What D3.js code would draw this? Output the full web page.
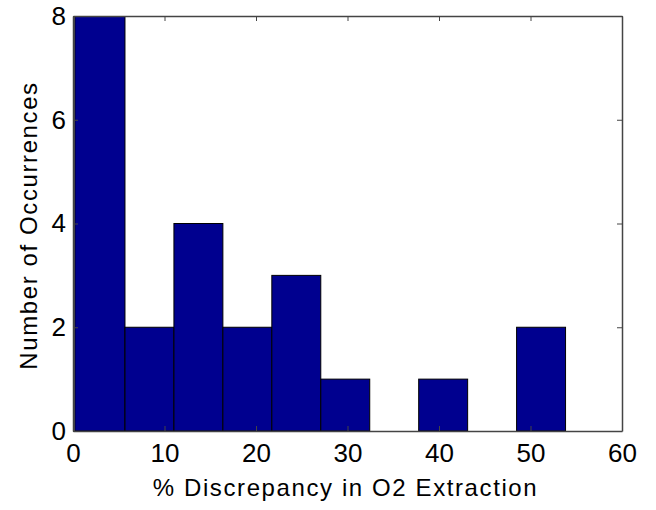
<!DOCTYPE html>
<html>
<head>
<meta charset="utf-8">
<script src="https://cdn.jsdelivr.net/npm/d3@7"></script>
<style>
  body { margin: 0; background: #fff; }
  svg { display: block; }
  text { font-family: "Liberation Sans", Arial, Helvetica, sans-serif; fill: #000; }
</style>
</head>
<body>
<svg id="chart" width="656" height="510"></svg>
<script>
// histogram bin edges (% discrepancy) and counts per bin
var binEdges = [0.2, 5.68, 11.03, 16.38, 21.73, 27.08, 32.43, 37.78, 43.13, 48.48, 53.83];
var counts = [8, 2, 4, 2, 3, 1, 0, 1, 0, 2];
var xTicks = [0, 10, 20, 30, 40, 50, 60];
var yTicks = [0, 2, 4, 6, 8];

var margin = {top: 16, right: 34, bottom: 79, left: 73};
var width = 656, height = 510;

var svg = d3.select('#chart');

var x = d3.scaleLinear().domain([0, 60]).range([margin.left, width - margin.right]);
var y = d3.scaleLinear().domain([0, 8]).range([height - margin.bottom, margin.top]);

var bins = counts.map(function(c, i) {
	return {x0: binEdges[i], x1: binEdges[i + 1], n: c};
});

svg.append('clipPath').attr('id', 'plotClip')
	.append('rect')
	.attr('x', x(0)).attr('y', y(8))
	.attr('width', x(60) - x(0)).attr('height', y(0) - y(8));

// bars (empty bins are left out, as MATLAB draws them flat)
svg.append('g')
	.attr('clip-path', 'url(#plotClip)')
	.selectAll('rect')
	.data(bins.filter(function(d) { return d.n > 0; }))
	.enter().append('rect')
	.attr('x', function(d) { return x(d.x0); })
	.attr('y', function(d) { return y(d.n); })
	.attr('width', function(d) { return x(d.x1) - x(d.x0); })
	.attr('height', function(d) { return y(0) - y(d.n); })
	.attr('fill', '#00008f')
	.attr('stroke', '#000')
	.attr('stroke-width', 1);

// box with inward ticks on all sides
var fmt = d3.format('d');
var tickFont = function(g) {
	g.selectAll('.domain').attr('stroke', '#444').attr('stroke-width', 1.5);
	g.selectAll('.tick line').attr('stroke', '#444');
	g.selectAll('text')
		.style('font-size', '26px')
		.style('font-family', '"Liberation Sans", Arial, sans-serif')
		.attr('fill', '#000');
};

svg.append('g')
	.attr('transform', 'translate(0,' + y(0) + ')')
	.call(d3.axisBottom(x).tickValues(xTicks).tickFormat(fmt).tickSizeInner(-5).tickSizeOuter(0).tickPadding(13))
	.call(tickFont);

svg.append('g')
	.attr('transform', 'translate(0,' + y(8) + ')')
	.call(d3.axisTop(x).tickValues(xTicks).tickFormat('').tickSizeInner(-5).tickSizeOuter(0))
	.call(tickFont);

svg.append('g')
	.attr('transform', 'translate(' + x(0) + ',0)')
	.call(d3.axisLeft(y).tickValues(yTicks).tickFormat(fmt).tickSizeInner(-5).tickSizeOuter(0).tickPadding(7))
	.call(tickFont);

svg.append('g')
	.attr('transform', 'translate(' + x(60) + ',0)')
	.call(d3.axisRight(y).tickValues(yTicks).tickFormat('').tickSizeInner(-5).tickSizeOuter(0))
	.call(tickFont);

// axis titles
svg.append('text')
	.attr('x', (x(0) + x(60)) / 2 - 2)
	.attr('y', 496)
	.attr('text-anchor', 'middle')
	.style('font-size', '24px')
	.style('letter-spacing', '1.6px')
	.text('% Discrepancy in O2 Extraction');

svg.append('text')
	.attr('transform', 'translate(37,' + ((y(0) + y(8)) / 2 + 2) + ') rotate(-90)')
	.attr('text-anchor', 'middle')
	.style('font-size', '24px')
	.style('letter-spacing', '1.6px')
	.text('Number of Occurrences');
</script>
</body>
</html>
